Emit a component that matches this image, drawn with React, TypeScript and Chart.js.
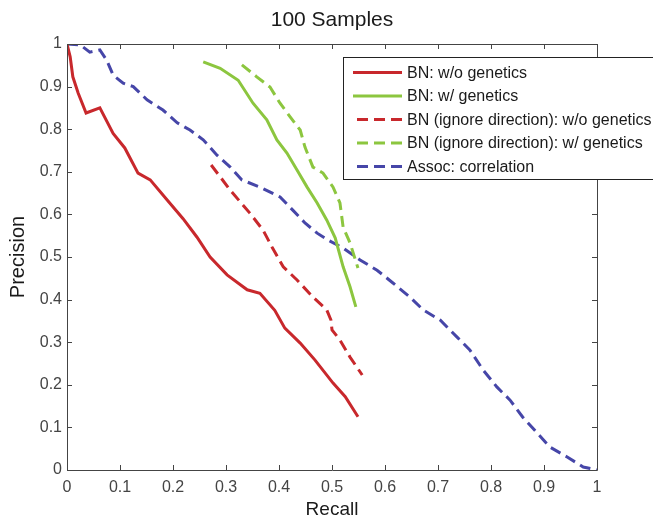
import React, { useEffect, useRef } from "react";
import { Chart, registerables } from "chart.js";

Chart.register(...registerables);

const titleText = "100 Samples";
const xAxisTitle = "Recall";
const yAxisTitle = "Precision";

const xTickValues = [0, 0.1, 0.2, 0.3, 0.4, 0.5, 0.6, 0.7, 0.8, 0.9, 1];
const xTickLabels = ["0", "0.1", "0.2", "0.3", "0.4", "0.5", "0.6", "0.7", "0.8", "0.9", "1"];
const yTickValues = [0, 0.1, 0.2, 0.3, 0.4, 0.5, 0.6, 0.7, 0.8, 0.9, 1];
const yTickLabels = ["0", "0.1", "0.2", "0.3", "0.4", "0.5", "0.6", "0.7", "0.8", "0.9", "1"];

const seriesLabels = [
  "BN: w/o genetics",
  "BN: w/ genetics",
  "BN (ignore direction): w/o genetics",
  "BN (ignore direction): w/ genetics",
  "Assoc: correlation",
];

const bnNoGenRecall = [0, 0.006, 0.011, 0.021, 0.036, 0.062, 0.087, 0.109, 0.134, 0.157, 0.189, 0.219, 0.245, 0.27, 0.302, 0.34, 0.364, 0.392, 0.411, 0.44, 0.468, 0.502, 0.525, 0.549];
const bnNoGenPrecision = [1, 0.97, 0.923, 0.885, 0.838, 0.85, 0.79, 0.756, 0.697, 0.681, 0.634, 0.59, 0.547, 0.5, 0.458, 0.423, 0.415, 0.375, 0.333, 0.298, 0.258, 0.204, 0.172, 0.125];

const bnGenRecall = [0.257, 0.289, 0.323, 0.351, 0.377, 0.396, 0.415, 0.434, 0.453, 0.472, 0.49, 0.506, 0.521, 0.534, 0.545];
const bnGenPrecision = [0.958, 0.943, 0.915, 0.861, 0.822, 0.775, 0.744, 0.704, 0.664, 0.627, 0.587, 0.545, 0.477, 0.43, 0.383];

const bnIgnNoGenRecall = [0.272, 0.308, 0.345, 0.37, 0.387, 0.408, 0.434, 0.464, 0.49, 0.498, 0.5, 0.515, 0.534, 0.557];
const bnIgnNoGenPrecision = [0.716, 0.657, 0.603, 0.563, 0.523, 0.477, 0.446, 0.406, 0.376, 0.352, 0.329, 0.305, 0.265, 0.223];

const bnIgnGenRecall = [0.33, 0.358, 0.383, 0.402, 0.421, 0.44, 0.449, 0.464, 0.483, 0.502, 0.515, 0.521, 0.534, 0.549];
const bnIgnGenPrecision = [0.951, 0.923, 0.899, 0.861, 0.829, 0.798, 0.758, 0.711, 0.697, 0.664, 0.627, 0.57, 0.533, 0.474];

const assocRecall = [0, 0.025, 0.043, 0.062, 0.075, 0.087, 0.106, 0.125, 0.151, 0.181, 0.208, 0.232, 0.257, 0.283, 0.308, 0.33, 0.364, 0.402, 0.426, 0.449, 0.472, 0.492, 0.521, 0.553, 0.585, 0.615, 0.647, 0.672, 0.704, 0.736, 0.76, 0.785, 0.811, 0.836, 0.86, 0.887, 0.911, 0.943, 0.974, 1];
const assocPrecision = [1, 0.998, 0.981, 0.986, 0.962, 0.927, 0.908, 0.9, 0.869, 0.845, 0.815, 0.798, 0.775, 0.739, 0.711, 0.681, 0.664, 0.641, 0.61, 0.58, 0.556, 0.54, 0.521, 0.493, 0.469, 0.439, 0.406, 0.376, 0.352, 0.312, 0.282, 0.235, 0.195, 0.164, 0.124, 0.087, 0.054, 0.031, 0.007, 0];

const RED = "#c8282c";
const GREEN = "#8cc63f";
const BLUE = "#4646a8";
const AXIS = "#444444";
const FONT = "'Liberation Sans', Arial, sans-serif";

const zip = (xs: number[], ys: number[]) => xs.map((x, i) => ({ x, y: ys[i] }));

const framePlugin = {
  id: "frameTicks",
  afterDatasetsDraw(chart: any) {
    const { ctx, chartArea, scales } = chart;
    const { left, right, top, bottom } = chartArea;
    ctx.save();
    ctx.strokeStyle = AXIS;
    ctx.lineWidth = 1;
    ctx.beginPath();
    ctx.rect(Math.round(left) + 0.5, Math.round(top) + 0.5, Math.round(right - left), Math.round(bottom - top));
    ctx.stroke();
    const tl = 5;
    ctx.beginPath();
    xTickValues.forEach((v) => {
      const px = Math.round(scales.x.getPixelForValue(v)) + 0.5;
      ctx.moveTo(px, bottom);
      ctx.lineTo(px, bottom - tl);
      ctx.moveTo(px, top);
      ctx.lineTo(px, top + tl);
    });
    yTickValues.forEach((v) => {
      const py = Math.round(scales.y.getPixelForValue(v)) + 0.5;
      ctx.moveTo(left, py);
      ctx.lineTo(left + tl, py);
      ctx.moveTo(right, py);
      ctx.lineTo(right - tl, py);
    });
    ctx.stroke();
    ctx.restore();
  },
};

const legendPlugin = {
  id: "boxLegend",
  afterDraw(chart: any) {
    const { ctx } = chart;
    const boxLeft = 343.5;
    const boxTop = 57.5;
    const boxRight = 662;
    const boxBottom = 179.5;
    ctx.save();
    ctx.fillStyle = "#ffffff";
    ctx.fillRect(boxLeft, boxTop, boxRight - boxLeft, boxBottom - boxTop);
    ctx.strokeStyle = "#222222";
    ctx.lineWidth = 1;
    ctx.strokeRect(boxLeft, boxTop, boxRight - boxLeft, boxBottom - boxTop);
    ctx.font = `16px ${FONT}`;
    ctx.textBaseline = "middle";
    ctx.textAlign = "left";
    chart.data.datasets.forEach((ds: any, i: number) => {
      const y = 72.5 + i * 23.5;
      ctx.strokeStyle = ds.borderColor;
      ctx.lineWidth = ds.borderWidth;
      ctx.setLineDash(ds.borderDash || []);
      ctx.beginPath();
      ctx.moveTo(ds.borderDash && ds.borderDash.length ? 357 : 353, y);
      ctx.lineTo(402, y);
      ctx.stroke();
      ctx.setLineDash([]);
      ctx.fillStyle = "#1a1a1a";
      ctx.fillText(ds.label, 407, y + 1);
    });
    ctx.restore();
  },
};

export default function App() {
  const canvasRef = useRef<HTMLCanvasElement | null>(null);

  useEffect(() => {
    document.body.style.margin = "0";
    const canvas = canvasRef.current;
    if (!canvas) return;
    const mk = (label: string, xs: number[], ys: number[], color: string, dash: number[]) => ({
      label,
      data: zip(xs, ys),
      borderColor: color,
      backgroundColor: color,
      borderWidth: 3,
      borderDash: dash,
      showLine: true,
      pointRadius: 0,
      pointHoverRadius: 0,
      tension: 0,
      fill: false,
    });
    const chart = new Chart(canvas, {
      type: "scatter",
      data: {
        datasets: [
          mk(seriesLabels[0], bnNoGenRecall, bnNoGenPrecision, RED, []),
          mk(seriesLabels[1], bnGenRecall, bnGenPrecision, GREEN, []),
          mk(seriesLabels[2], bnIgnNoGenRecall, bnIgnNoGenPrecision, RED, [11, 6]),
          mk(seriesLabels[3], bnIgnGenRecall, bnIgnGenPrecision, GREEN, [11, 6]),
          mk(seriesLabels[4], assocRecall, assocPrecision, BLUE, [11, 6]),
        ],
      },
      options: {
        responsive: false,
        animation: false,
        layout: { padding: { left: 0, right: 56, top: 0, bottom: 0 } },
        plugins: {
          legend: { display: false },
          tooltip: { enabled: false },
          title: {
            display: true,
            text: titleText,
            fullSize: false,
            color: "#1a1a1a",
            font: { family: FONT, size: 21, weight: "normal" },
            padding: { top: 7.4, bottom: 11.4 },
          },
        },
        scales: {
          x: {
            type: "linear",
            min: 0,
            max: 1,
            afterBuildTicks: (scale: any) => {
              scale.ticks = xTickValues.map((v) => ({ value: v }));
            },
            afterFit: (scale: any) => {
              scale.height = 48;
            },
            grid: { display: false, drawTicks: false },
            border: { display: false },
            ticks: {
              color: AXIS,
              padding: 8,
              maxRotation: 0,
              autoSkip: false,
              font: { family: FONT, size: 16 },
              callback: (v: any) => {
                const i = xTickValues.findIndex((t) => Math.abs(t - Number(v)) < 1e-9);
                return i >= 0 ? xTickLabels[i] : "";
              },
            },
            title: {
              display: true,
              text: xAxisTitle,
              color: "#1a1a1a",
              font: { family: FONT, size: 19 },
              padding: { top: 0, bottom: -3 },
            },
          },
          y: {
            type: "linear",
            min: 0,
            max: 1,
            afterBuildTicks: (scale: any) => {
              scale.ticks = yTickValues.map((v) => ({ value: v }));
            },
            afterFit: (scale: any) => {
              scale.width = 67;
            },
            grid: { display: false, drawTicks: false },
            border: { display: false },
            ticks: {
              color: AXIS,
              padding: 5,
              autoSkip: false,
              font: { family: FONT, size: 16 },
              callback: (v: any) => {
                const i = yTickValues.findIndex((t) => Math.abs(t - Number(v)) < 1e-9);
                return i >= 0 ? yTickLabels[i] : "";
              },
            },
            title: {
              display: true,
              text: yAxisTitle,
              color: "#1a1a1a",
              font: { family: FONT, size: 20 },
              padding: { top: 6, bottom: 0 },
            },
          },
        },
      },
      plugins: [framePlugin, legendPlugin],
    } as any);
    return () => chart.destroy();
  }, []);

  return (
    <div style={{ position: "absolute", left: 0, top: 0, width: 653, height: 518, background: "#ffffff" }}>
      <canvas ref={canvasRef} width={653} height={518} style={{ display: "block" }} />
    </div>
  );
}
